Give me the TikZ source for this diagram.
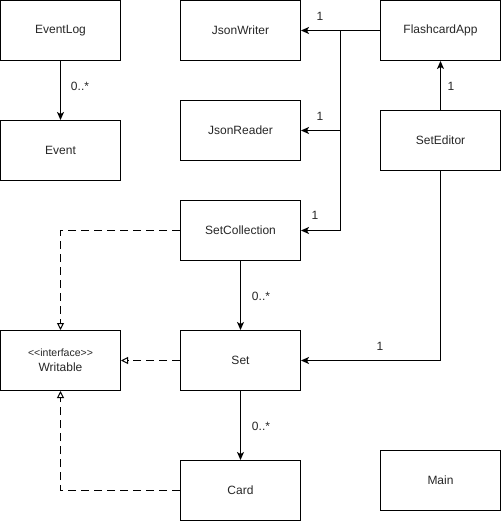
\documentclass[tikz,border=0pt]{standalone}
\usepackage{fontspec}
\setmainfont{Liberation Sans}
\usetikzlibrary{arrows.meta}
\begin{document}
\begin{tikzpicture}[x=1pt,y=-1pt,
  cls/.style={draw, line width=1pt, minimum width=120pt, minimum height=60pt,
    inner sep=0pt, font=\fontsize{12}{14}\selectfont, text=black!85, align=center},
  assoc/.style={line width=1pt, -{Stealth[length=8pt,width=7pt,inset=2pt]}},
  realize/.style={line width=1pt, dash pattern=on 8pt off 5pt,
    -{Triangle[open,length=7pt,width=7pt]}},
  lbl/.style={font=\fontsize{12}{14}\selectfont, text=black!85, inner sep=0pt}]
\useasboundingbox (0,0) rectangle (501,521);

% classes
\node[cls] (eventlog) at (60.5,30.5) {EventLog};
\node[cls] (event) at (60.5,150.5) {Event};
\node[cls] (jsonwriter) at (240.5,30.5) {JsonWriter};
\node[cls] (flashcard) at (440.5,30.5) {FlashcardApp};
\node[cls] (jsonreader) at (240.5,130.5) {JsonReader};
\node[cls] (seteditor) at (440.5,140.5) {SetEditor};
\node[cls] (setcoll) at (240.5,230.5) {SetCollection};
\node[cls] (writable) at (60.5,360.5) {{\fontsize{10.5}{12}\selectfont <\kern0pt<interface>\kern0pt>}\\[1pt]Writable};
\node[cls] (set) at (240.5,360.5) {Set};
\node[cls] (card) at (240.5,490.5) {Card};
\node[cls] (main) at (440.5,480.5) {Main};

% associations
\draw[assoc] (eventlog) -- (event);
\node[lbl] (l1) at (80,86) {0..*};

\coordinate (fork1) at (340.5,30.5);
\coordinate (fork2) at (340.5,130.5);
\coordinate (fork3) at (340.5,230.5);
\draw[assoc] (flashcard.west) -- (jsonwriter.east);
\draw[assoc] (fork1) -- (fork2) -- (jsonreader.east);
\draw[assoc] (fork2) -- (fork3) -- (setcoll.east);
\node[lbl] (l2) at (320,16) {1};
\node[lbl] (l3) at (320,116) {1};
\node[lbl] (l4) at (315,215) {1};

\draw[assoc] (seteditor.north) -- (flashcard.south);
\node[lbl] (l5) at (451,86) {1};

\coordinate (bend1) at (440.5,360.5);
\draw[assoc] (seteditor.south) -- (bend1) -- (set.east);
\node[lbl] (l6) at (380,346) {1};

\draw[assoc] (setcoll) -- (set);
\node[lbl] (l7) at (261,296) {0..*};
\draw[assoc] (set) -- (card);
\node[lbl] (l8) at (261,426) {0..*};

% realizations
\coordinate (bend2) at (60.5,230.5);
\coordinate (bend3) at (60.5,490.5);
\draw[realize] (setcoll.west) -- (bend2) -- (writable.north);
\draw[realize] (set.west) -- (writable.east);
\draw[realize] (card.west) -- (bend3) -- (writable.south);
\end{tikzpicture}
\end{document}
